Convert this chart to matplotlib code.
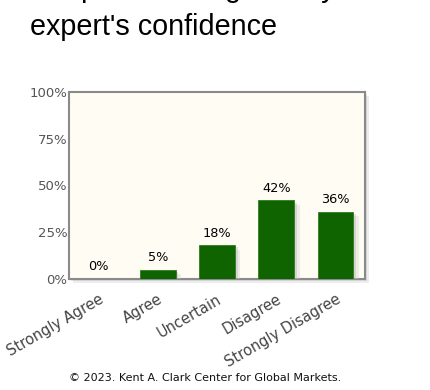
import matplotlib
matplotlib.use("Agg")
import matplotlib.pyplot as plt
import matplotlib.patheffects as pe

categories = ["Strongly Agree", "Agree", "Uncertain", "Disagree", "Strongly Disagree"]
values = [0, 5, 18, 42, 36]
value_labels = ["0%", "5%", "18%", "42%", "36%"]
yticks = [0, 25, 50, 75, 100]
ytick_labels = ["0%", "25%", "50%", "75%", "100%"]
title_line1 = "Responses weighted by each"
title_line2 = "expert's confidence"
footer = "\u00a9 2023. Kent A. Clark Center for Global Markets."

W, H = 431, 390
fig = plt.figure(figsize=(W / 100, H / 100), dpi=100)
fig.patch.set_facecolor("white")

# title (first line mostly above the visible area, as in the reference)
fig.text(30 / W, 1 - (-3) / H, title_line1, fontsize=20.7, family="Liberation Sans",
         color="black", ha="left", va="baseline")
fig.text(30 / W, 1 - 35 / H, title_line2, fontsize=20.7, family="Liberation Sans",
         color="black", ha="left", va="baseline")

ax = fig.add_axes([69 / W, 1 - 279 / H, 296 / W, 187 / H])
ax.set_facecolor("#fffcf4")
ax.patch.set_path_effects([
    pe.SimplePatchShadow(offset=(3, -3), shadow_rgbFace="#bbbbbb", alpha=0.25),
    pe.SimplePatchShadow(offset=(1.5, -1.5), shadow_rgbFace="#aaaaaa", alpha=0.3),
    pe.Normal()])

x = list(range(len(categories)))
bars = ax.bar(x, values, width=0.6, color="#106400", edgecolor="#2e7d1e", linewidth=0.6, zorder=3)
for b in bars:
    b.set_path_effects([
        pe.SimplePatchShadow(offset=(4, -3), shadow_rgbFace="#cccccc", alpha=0.35),
        pe.SimplePatchShadow(offset=(2, -1.5), shadow_rgbFace="#aaaaaa", alpha=0.35),
        pe.Normal()])

for xi, v, lab in zip(x, values, value_labels):
    ax.annotate(lab, (xi, v), xytext=(0, 4), textcoords="offset points", ha="center", va="bottom",
                fontsize=9.3, color="black", family="DejaVu Sans")

ax.set_xlim(-0.5, 4.5)
ax.set_ylim(0, 100)
ax.set_yticks(yticks)
ax.set_yticklabels(ytick_labels, fontsize=9.5, color="#555555", family="DejaVu Sans")
ax.set_xticks(x)
ax.set_xticklabels(categories, rotation=30, ha="right", va="top", rotation_mode="anchor",
                   fontsize=10.5, color="#444444", family="DejaVu Sans")
ax.tick_params(axis="y", length=0, pad=1)
ax.tick_params(axis="x", length=0, pad=9)
for s in ax.spines.values():
    s.set_color("#8a8a8a")
    s.set_linewidth(1.5)

fig.text(205 / W, 1 - 378 / H, footer, fontsize=8, color="#111111", ha="center", va="center",
         family="DejaVu Sans")

fig.savefig("out.png", dpi=100)
